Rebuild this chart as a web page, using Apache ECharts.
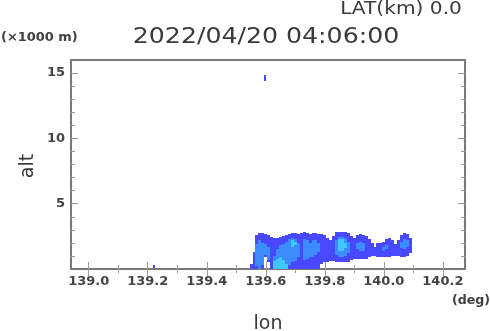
<!DOCTYPE html>
<html>
<head>
<meta charset="utf-8">
<script src="https://cdn.jsdelivr.net/npm/echarts@6/dist/echarts.min.js"></script>
<style>html,body{margin:0;padding:0;background:#fff}#c{width:490px;height:331px}</style>
</head>
<body>
<div id="c"></div>
<script>
// ---- data (lon in deg, altitude in km) ----
const lonCols = [139.55,139.56,139.57,139.58,139.59,139.60,139.61,139.62,139.63,139.64,
  139.65,139.66,139.67,139.68,139.69,139.70,139.71,139.72,139.73,139.74,
  139.75,139.76,139.77,139.78,139.79,139.80,139.81,139.82,139.83,139.84,
  139.85,139.86,139.87,139.88,139.89,139.90,139.91,139.92,139.93,139.94,
  139.95,139.96,139.97,139.98,139.99,140.00,140.01,140.02,140.03,140.04,
  140.05,140.06,140.07,140.08,140.09];
// weakest level (outer contour)
const lvl1Bottom = [0,0,0,0,0,0.9,0.5,0,0,0, 0,0,0,0,0,0,0,0,0,0, 0,0,0,0,0.4,0.5,0.5,0.6,0.6,0.55,
  0.5,0.5,0.5,0.55,0.7,0.8,0.75,0.75,0.75,0.8, 0.9,1.0,1.0,0.95,0.95,0.95,0.95,0.95,1.0,1.0, 1.0,0.95,0.95,1.0,1.2];
const lvl1Top = [0.4,1.3,2.6,2.75,2.75,2.7,2.6,2.45,2.4,2.4, 2.45,2.5,2.6,2.7,2.75,2.75,2.7,2.75,2.8,2.75,
  2.7,2.75,2.75,2.7,2.7,2.6,2.4,2.2,2.5,2.8, 2.85,2.85,2.8,2.75,2.5,2.4,2.6,2.65,2.6,2.5,
  2.3,2.0,1.7,2.0,2.0,2.1,2.3,2.4,2.2,1.9, 2.2,2.6,2.75,2.7,2.4];
// middle level
const lvl2Bottom = [null,null,0.2,0,0.3,1.1,0.7,null,0,0, 0,0,0.2,0.3,0.5,0.6,0.9,null,0.7,0.8,
  0.9,0.9,1.1,1.3,null,null,null,null,null,1.1, 0.9,0.9,1.0,1.2,null,null,1.5,1.4,1.4,null,
  null,null,null,null,null,1.4,1.5,null,null,null, null,1.6,1.5,1.7,null];
const lvl2Top = [null,null,1.9,2.2,2.0,1.9,1.7,null,1.0,1.5, 1.8,1.9,2.1,2.3,2.4,2.3,2.0,null,2.3,2.2,
  2.0,2.2,2.2,2.0,null,null,null,null,null,2.2, 2.45,2.45,2.35,2.1,null,null,2.0,2.1,2.0,null,
  null,null,null,null,null,1.7,1.8,null,null,null, null,2.1,2.3,2.2,null];
// strongest level
const lvl3Bottom = [null,null,null,null,null,null,null,null,0,0, 0,0,0,null,1.7,1.8,null,null,null,null,
  null,null,null,null,null,null,null,null,null,null, 1.4,1.4,1.6,null,null,null,null,null,null,null,
  null,null,null,null,null,null,null,null,null,null, null,null,null,null,null];
const lvl3Top = [null,null,null,null,null,null,null,null,0.6,0.8, 0.9,0.7,0.4,null,2.2,2.1,null,null,null,null,
  null,null,null,null,null,null,null,null,null,null, 2.3,2.3,2.0,null,null,null,null,null,null,null,
  null,null,null,null,null,null,null,null,null,null, null,null,null,null,null];
// isolated small echoes
const speckLon = [139.597, 139.22];
const speckBottom = [14.4, 0.05];
const speckTop = [14.85, 0.3];

const xMajor = [139.0,139.2,139.4,139.6,139.8,140.0,140.2];
const xMinor = [139.1,139.3,139.5,139.7,139.9,140.1];
const yMajor = [5,10,15];
const yMinor = [1,2,3,4,6,7,8,9,11,12,13,14];

const colors = ['#4848ff','#3d8cff','#3ec8ff'];

function build(lons, b, t){
  const out = [];
  for (let i=0;i<lons.length;i++){ if (b[i]!=null && t[i]!=null) out.push([lons[i], b[i], t[i]]); }
  return out;
}
function makeRender(color, w){
  return function(params, api){
    const lon = api.value(0), b = api.value(1), t = api.value(2);
    const p0 = api.coord([lon - w/2, t]);
    const p1 = api.coord([lon + w/2, b]);
    const x0 = Math.round(p0[0]), x1 = Math.round(p1[0]);
    const y0 = Math.round(p0[1]), y1 = Math.round(p1[1]);
    return {type:'rect', shape:{x:x0, y:y0, width:Math.max(1,x1-x0), height:Math.max(1,y1-y0)}, style:{fill:color}};
  };
}

const tickStyle = {color:'#9a9a9a', width:1};
const labelFont = {fontFamily:'DejaVu Sans', fontWeight:'bold', fontSize:13, color:'#444'};
const XMIN = 138.94, XMAX = 140.275;

function xAx(pos, vals, len, label){
  return {type:'value', position:pos, min:XMIN, max:XMAX, gridIndex:0,
    axisLine:{show:false}, splitLine:{show:false},
    axisTick:{show:true, inside:true, length:len, lineStyle:tickStyle, customValues:vals},
    axisLabel: label ? Object.assign({show:true, margin:6, customValues:vals, formatter:v=>v.toFixed(1)}, labelFont) : {show:false}};
}
function yAx(pos, vals, len, label){
  return {type:'value', position:pos, min:0, max:16, gridIndex:0,
    axisLine:{show:false}, splitLine:{show:false},
    axisTick:{show:true, inside:true, length:len, lineStyle:tickStyle, customValues:vals},
    axisLabel: label ? Object.assign({show:true, margin:6, customValues:vals, formatter:v=>String(v)}, labelFont) : {show:false}};
}

const chart = echarts.init(document.getElementById('c'), null, {renderer:'canvas'});
chart.setOption({
  animation:false,
  backgroundColor:'#fff',
  grid:{left:71, top:60, width:394, height:209, show:true, borderColor:'#7a7a7a', borderWidth:2, backgroundColor:'transparent', outerBoundsMode:'none', containLabel:false},
  xAxis:[xAx('bottom', xMajor, 7, true), xAx('bottom', xMinor, 4, false), xAx('top', xMajor, 7, false), xAx('top', xMinor, 4, false)],
  yAxis:[yAx('left', yMajor, 7, true), yAx('left', yMinor, 4, false), yAx('right', yMajor, 7, false), yAx('right', yMinor, 4, false)],
  series:[
    {type:'custom', clip:true, xAxisIndex:0, yAxisIndex:0, data:build(lonCols, lvl1Bottom, lvl1Top), renderItem:makeRender(colors[0], 0.01)},
    {type:'custom', clip:true, xAxisIndex:0, yAxisIndex:0, data:build(speckLon, speckBottom, speckTop), renderItem:makeRender(colors[0], 0.006)},
    {type:'custom', clip:true, xAxisIndex:0, yAxisIndex:0, data:build(lonCols, lvl2Bottom, lvl2Top), renderItem:makeRender(colors[1], 0.01)},
    {type:'custom', clip:true, xAxisIndex:0, yAxisIndex:0, data:build(lonCols, lvl3Bottom, lvl3Top), renderItem:makeRender(colors[2], 0.01)}
  ],
  graphic:[
    {type:'text', x:266, y:38, scaleX:1.2, style:{text:'2022/04/20 04:06:00', font:'21px "DejaVu Sans"', fill:'#3a3a3a', align:'center', verticalAlign:'middle'}},
    {type:'text', x:401, y:9, scaleX:1.12, style:{text:'LAT(km) 0.0', font:'18px "DejaVu Sans"', fill:'#3a3a3a', align:'center', verticalAlign:'middle'}},
    {type:'text', x:1, y:38, scaleX:1.08, style:{text:'(×1000 m)', font:'bold 12px "DejaVu Sans"', fill:'#404040', align:'left', verticalAlign:'middle'}},
    {type:'text', x:471, y:301, scaleX:1.05, style:{text:'(deg)', font:'bold 12px "DejaVu Sans"', fill:'#404040', align:'center', verticalAlign:'middle'}},
    {type:'text', x:268, y:324, style:{text:'lon', font:'19px "DejaVu Sans"', fill:'#3a3a3a', align:'center', verticalAlign:'middle'}},
    {type:'text', x:28, y:166, rotation:Math.PI/2, style:{text:'alt', font:'19px "DejaVu Sans"', fill:'#3a3a3a', align:'center', verticalAlign:'middle'}}
  ]
});
</script>
</body>
</html>
